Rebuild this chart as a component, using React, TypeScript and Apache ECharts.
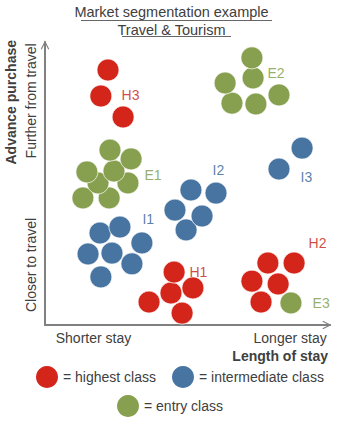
import React, { useEffect, useRef } from "react";
import * as echarts from "echarts";

// Cluster points: [length of stay (0-100), advance purchase (0-100)]
const H1 = [[36.5, 8.1], [48.1, 4.2], [44.2, 11.3], [51.9, 13.1], [45.3, 18.7]];
const H2 = [[75.8, 8.1], [72.6, 15.5], [81.8, 14.5], [78.2, 21.9], [87.4, 21.9]];
const H3 = [[22.1, 90.1], [19.6, 80.9], [27.4, 73.5]];
const I1 = [[19.6, 17.0], [30.5, 21.6], [15.1, 25.1], [23.5, 25.4], [34.0, 29.0], [19.3, 32.5], [26.3, 34.6]];
const I2 = [[49.5, 33.6], [45.6, 40.6], [55.1, 38.5], [51.2, 47.7], [60.0, 46.6]];
const I3 = [[82.1, 55.1], [90.2, 62.5]];
const E1 = [[13.3, 44.9], [22.5, 44.9], [18.6, 50.2], [29.1, 50.2], [14.7, 54.1], [24.2, 54.4], [30.2, 58.7], [22.8, 61.8]];
const E2 = [[65.6, 78.4], [74.0, 78.1], [82.1, 81.3], [63.2, 85.5], [73.0, 87.3], [72.6, 94.4]];
const E3 = [[86.3, 7.8]];

const clusterNames = ["H1", "H2", "H3", "I1", "I2", "I3", "E1", "E2", "E3"];
const clusterLabelPos = [
  [50.5, 18.7], [92.3, 29.0], [26.7, 81.3],
  [34.0, 37.5], [58.6, 54.8], [89.5, 52.3],
  [34.7, 53.0], [77.9, 89.0], [93.7, 7.8],
];

const classNames = ["highest class", "intermediate class", "entry class"];
const classColors = ["#d4251a", "#4874a1", "#87a04f"];
const labelColors = ["#c21a14", "#2f5f94", "#7c9a42"];

const xTickValues = [17, 86];
const xTickLabels = ["Shorter stay", "Longer stay"];
const yTickValues = [21.2, 79.2];
const yTickLabels = ["Closer to travel", "Further from travel"];

const titleLines = ["Market segmentation example", "Travel & Tourism"];

const FONT = "'Liberation Sans', Arial, Helvetica, sans-serif";
const TEXT = "#404040";
const AXIS = "#808080";
const CHEVRON = "path://M0,10 L5,0 L10,10 L8.8,10.6 L5,3 L1.2,10.6 Z";

export default function App() {
  const ref = useRef<HTMLDivElement>(null);
  useEffect(() => {
    if (!ref.current) return;
    const chart = echarts.init(ref.current, undefined, { renderer: "svg" });
    const classData = [
      [...H1, ...H2, ...H3],
      [...I1, ...I2, ...I3],
      [...E1, ...E2, ...E3],
    ];
    const labelData = clusterNames.map((n, i) => ({
      name: n,
      value: clusterLabelPos[i],
      label: { color: labelColors[n[0] === "H" ? 0 : n[0] === "I" ? 1 : 2] },
    }));
    chart.setOption({
      animation: false,
      textStyle: { fontFamily: FONT },
      title: {
        text: titleLines[0],
        subtext: titleLines[1],
        left: "center",
        top: 0,
        padding: [4, 0, 0, 9],
        itemGap: 3,
        textStyle: { fontSize: 14.5, fontWeight: "normal", color: TEXT, fontFamily: FONT },
        subtextStyle: { fontSize: 14.5, color: TEXT, fontFamily: FONT },
      },
      graphic: [
        { type: "line", shape: { x1: 81, y1: 20.5, x2: 272, y2: 20.5 }, style: { stroke: "#666", lineWidth: 1 } },
        { type: "line", shape: { x1: 122, y1: 36.5, x2: 231, y2: 36.5 }, style: { stroke: "#666", lineWidth: 1 } },
      ],
      legend: [
        {
          data: classNames.slice(0, 2),
          left: 36,
          top: 366,
          padding: 0,
          icon: "circle",
          itemWidth: 22,
          itemHeight: 22,
          itemGap: 16,
          formatter: "= {name}",
          itemStyle: { borderWidth: 0 },
          textStyle: { fontSize: 14, color: TEXT, fontFamily: FONT },
          selectedMode: false,
        },
        {
          data: classNames.slice(2),
          left: 117,
          top: 395,
          padding: 0,
          icon: "circle",
          itemWidth: 22,
          itemHeight: 22,
          formatter: "= {name}",
          itemStyle: { borderWidth: 0 },
          textStyle: { fontSize: 14, color: TEXT, fontFamily: FONT },
          selectedMode: false,
        },
      ],
      grid: { left: 45, right: 13, top: 42, bottom: 96, containLabel: false },
      xAxis: {
        type: "value",
        min: 0,
        max: 100,
        splitLine: { show: false },
        axisTick: { show: false },
        axisLine: {
          show: true,
          onZero: false,
          symbol: ["none", CHEVRON],
          symbolSize: [9, 9],
          symbolOffset: [0, -3],
          lineStyle: { color: AXIS, width: 2 },
        },
        axisLabel: {
          customValues: xTickValues,
          margin: 6,
          fontSize: 14,
          color: TEXT,
          formatter: (v: number) => {
            const i = xTickValues.indexOf(v);
            return i >= 0 ? xTickLabels[i] : "";
          },
        },
        name: "Length of stay",
        nameLocation: "end",
        nameGap: -2,
        nameMoveOverlap: false,
        nameTextStyle: {
          fontSize: 14,
          fontWeight: "bold",
          color: TEXT,
          align: "right",
          verticalAlign: "top",
          padding: [24, 0, 0, 0],
        },
      },
      yAxis: {
        type: "value",
        min: 0,
        max: 100,
        splitLine: { show: false },
        axisTick: { show: false },
        axisLine: {
          show: true,
          onZero: false,
          symbol: ["none", CHEVRON],
          symbolSize: [9, 9],
          symbolOffset: [0, -3],
          lineStyle: { color: AXIS, width: 2 },
        },
        axisLabel: {
          customValues: yTickValues,
          rotate: 90,
          margin: 7,
          fontSize: 14,
          color: TEXT,
          formatter: (v: number) => {
            const i = yTickValues.indexOf(v);
            return i >= 0 ? yTickLabels[i] : "";
          },
        },
        name: "Advance purchase",
        nameLocation: "end",
        nameGap: 2,
        nameRotate: 90,
        nameMoveOverlap: false,
        nameTextStyle: {
          fontSize: 14,
          fontWeight: "bold",
          color: TEXT,
          align: "right",
          verticalAlign: "bottom",
          padding: [0, 0, 27, 0],
        },
      },
      series: [
        ...classNames.map((name, i) => ({
          name,
          type: "scatter",
          data: classData[i],
          symbol: "circle",
          symbolSize: 22,
          itemStyle: { color: classColors[i], opacity: 1, borderColor: "#ffffff", borderWidth: 0.7 },
          silent: true,
        })),
        {
          name: "cluster labels",
          type: "scatter",
          data: labelData,
          symbolSize: 1,
          itemStyle: { color: "rgba(0,0,0,0)" },
          silent: true,
          label: {
            show: true,
            position: "right",
            distance: 0,
            formatter: "{b}",
            fontSize: 14,
            fontFamily: FONT,
          },
        },
      ],
    });
    return () => chart.dispose();
  }, []);
  return (
    <div
      ref={ref}
      style={{ position: "absolute", left: 0, top: 0, width: 343, height: 421 }}
    />
  );
}
